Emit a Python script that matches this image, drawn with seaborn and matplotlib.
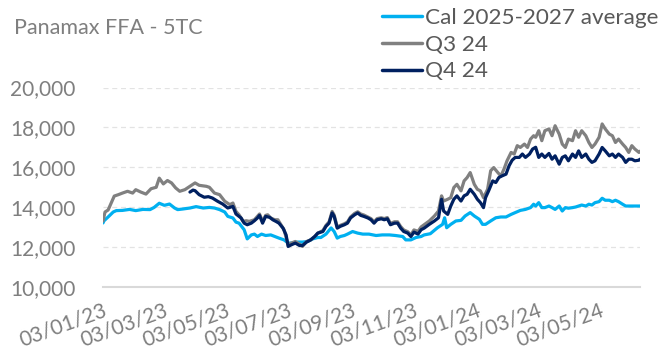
import matplotlib
matplotlib.use("Agg")
import matplotlib.pyplot as plt
from matplotlib.lines import Line2D
from matplotlib.ticker import FuncFormatter
import seaborn as sns
import pandas as pd

title = "Panamax FFA - 5TC"
series_names = ["Cal 2025-2027 average", "Q3 24", "Q4 24"]
series_colors = ["#00B0F0", "#808080", "#002060"]
start_date = "2023-01-03"
end_day = 525
tick_dates = ["2023-01-03", "2023-03-03", "2023-05-03", "2023-07-03", "2023-09-03",
              "2023-11-03", "2024-01-03", "2024-03-03", "2024-05-03"]
y_ticks = [10000, 12000, 14000, 16000, 18000, 20000]

# days since 2023-01-03
cal_days = [0, 1, 5, 10, 13, 19, 26, 32, 39, 46,
            50, 55, 60, 65, 70, 73, 78, 85, 91, 98,
            104, 109, 114, 119, 122, 127, 130, 133, 138, 141,
            145, 148, 151, 155, 159, 164, 168, 172, 177, 181,
            185, 190, 195, 200, 205, 210, 213, 218, 223, 226,
            229, 232, 236, 239, 244, 249, 254, 260, 267, 273,
            280, 286, 293, 296, 301, 306, 311, 314, 320, 327,
            332, 334, 336, 340, 345, 350, 354, 359, 363, 368,
            371, 374, 379, 384, 389, 394, 399, 403, 408, 413,
            418, 421, 423, 426, 429, 432, 436, 439, 442, 446,
            449, 452, 455, 459, 462, 465, 468, 472, 475, 478,
            481, 485, 488, 491, 495, 498, 501, 504, 508, 511,
            514, 517, 524, 525]
cal_values = [13200, 13310, 13500, 13750, 13820, 13830, 13880, 13820, 13880, 13870,
              13980, 14190, 14085, 14150, 13950, 13870, 13900, 13950, 14020, 13950,
              13980, 13950, 13870, 13750, 13530, 13450, 13240, 13190, 12860, 12400,
              12600, 12640, 12520, 12640, 12570, 12600, 12520, 12440, 12350, 12190,
              12190, 12240, 12240, 12270, 12400, 12470, 12470, 12640, 12950, 12770,
              12440, 12520, 12570, 12640, 12770, 12690, 12640, 12640, 12570, 12600,
              12600, 12570, 12520, 12350, 12350, 12470, 12520, 12600, 12660, 12960,
              13130, 13460, 12960, 13130, 13300, 13330, 13550, 13720, 13550, 13380,
              13130, 13130, 13300, 13460, 13500, 13500, 13630, 13720, 13830, 13880,
              13970, 14140, 14050, 14220, 13970, 13970, 14050, 13970, 13880, 14050,
              13800, 13970, 13940, 13970, 14000, 14050, 14100, 14050, 14140, 14100,
              14220, 14270, 14440, 14340, 14340, 14270, 14340, 14270, 14140, 14050,
              14050, 14050, 14050, 14050]

q3_days = [0, 2, 5, 8, 11, 15, 19, 24, 29, 32,
           37, 42, 47, 52, 55, 59, 63, 67, 71, 75,
           80, 85, 90, 94, 101, 104, 109, 114, 119, 124,
           127, 130, 133, 137, 140, 143, 148, 151, 153, 156,
           159, 161, 164, 168, 171, 174, 177, 181, 184, 188,
           192, 195, 199, 203, 207, 210, 215, 218, 221, 224,
           226, 229, 232, 236, 239, 242, 246, 249, 252, 255,
           259, 262, 265, 268, 272, 275, 278, 281, 285, 288,
           291, 294, 298, 301, 304, 308, 311, 314, 319, 324,
           328, 331, 333, 337, 340, 343, 346, 350, 353, 356,
           359, 363, 366, 369, 372, 376, 379, 382, 386, 389,
           392, 395, 399, 402, 405, 408, 412, 415, 418, 421,
           423, 426, 429, 432, 436, 439, 442, 446, 449, 452,
           455, 459, 462, 465, 468, 472, 475, 478, 481, 485,
           488, 491, 495, 498, 501, 504, 508, 511, 514, 517,
           520, 524, 525]
q3_values = [13300, 13750, 13850, 14200, 14550, 14620, 14700, 14790, 14700, 14870,
             14750, 14650, 14920, 14990, 15450, 15160, 15330, 15210, 14960, 14790,
             14870, 15040, 15210, 15090, 15040, 14990, 14700, 14620, 14290, 14120,
             14200, 13780, 13610, 13280, 13310, 13280, 13360, 13530, 13650, 13280,
             13580, 13610, 13450, 13360, 13360, 13110, 12860, 12100, 12190, 12270,
             12140, 12020, 12270, 12350, 12520, 12690, 12820, 13080, 13250, 13780,
             13600, 13000, 13080, 13160, 13250, 13500, 13680, 13760, 13650, 13600,
             13500, 13420, 13260, 13420, 13460, 13420, 13470, 13180, 13260, 13260,
             13020, 12850, 12760, 12600, 12850, 12780, 13000, 13110, 13300, 13550,
             13800, 14560, 14300, 14390, 14470, 14980, 15140, 14810, 15310, 15480,
             15730, 15140, 14890, 14810, 14470, 14890, 15820, 15980, 15730, 15560,
             15900, 16320, 16740, 16660, 17080, 16990, 17160, 16990, 17410, 17580,
             17500, 17830, 17330, 17830, 17920, 17580, 18080, 17660, 17160, 16990,
             17410, 17330, 17830, 17500, 17830, 17580, 17240, 16990, 17160, 17500,
             18170, 17920, 17660, 17580, 17240, 17410, 17160, 16990, 16740, 17080,
             16910, 16740, 16800]

q4_days = [85, 88, 90, 94, 99, 103, 107, 112, 117, 122,
           127, 130, 135, 138, 141, 145, 148, 151, 153, 156,
           159, 163, 166, 169, 172, 176, 179, 181, 184, 188,
           192, 195, 199, 203, 207, 210, 215, 218, 221, 224,
           226, 229, 232, 236, 239, 242, 246, 249, 252, 255,
           259, 262, 265, 268, 272, 275, 278, 281, 285, 288,
           291, 294, 298, 301, 304, 308, 311, 314, 319, 324,
           328, 331, 333, 337, 340, 343, 346, 350, 353, 356,
           359, 363, 366, 369, 372, 374, 377, 381, 384, 387,
           390, 394, 397, 400, 403, 407, 410, 413, 417, 420,
           423, 426, 429, 432, 436, 439, 442, 446, 449, 452,
           455, 459, 462, 465, 468, 472, 475, 478, 481, 485,
           488, 491, 495, 498, 501, 504, 508, 511, 514, 517,
           520, 524, 525]
q4_values = [14750, 14850, 14820, 14620, 14490, 14520, 14450, 14290, 14150, 13950,
             14030, 13650, 13450, 13190, 13110, 13190, 13310, 13450, 13580, 13190,
             13530, 13480, 13360, 13280, 13190, 12940, 12600, 12020, 12100, 12190,
             12070, 12070, 12240, 12350, 12520, 12690, 12770, 13030, 13190, 13700,
             13530, 12940, 13030, 13110, 13190, 13450, 13610, 13700, 13580, 13530,
             13450, 13360, 13190, 13360, 13410, 13360, 13410, 13110, 13190, 13190,
             12940, 12770, 12690, 12520, 12740, 12640, 12860, 12940, 13130, 13300,
             13460, 14390, 13800, 13630, 14050, 14390, 14560, 14300, 14560, 14640,
             14890, 14640, 14390, 14220, 13970, 14470, 14810, 15310, 15230, 15480,
             15560, 15650, 16070, 16350, 16490, 16490, 16660, 16490, 16660, 16910,
             17000, 16490, 16660, 16490, 16690, 16400, 16570, 16150, 16490, 16570,
             16320, 16660, 16490, 16820, 16490, 16660, 16400, 16240, 16320, 16660,
             16990, 16820, 16570, 16660, 16490, 16660, 16490, 16240, 16400, 16400,
             16320, 16350, 16400]

sns.set_theme(style="white")
plt.rcParams["font.family"] = ["Lato", "DejaVu Sans"]

base = pd.Timestamp(start_date)
frames = []
for name, d, v in zip(series_names, [cal_days, q3_days, q4_days],
                      [cal_values, q3_values, q4_values]):
    assert len(d) == len(v), (name, len(d), len(v))
    frames.append(pd.DataFrame({"date": base + pd.to_timedelta(d, unit="D"),
                                "value": v, "series": name}))
df = pd.concat(frames, ignore_index=True)

W, H = 666, 351
fig = plt.figure(figsize=(W / 100, H / 100), dpi=100)
ax = fig.add_axes([103 / W, 1 - 286.7 / H, (640 - 103) / W, (286.7 - 87.5) / H])

sns.lineplot(data=df, x="date", y="value", hue="series", hue_order=series_names,
             palette=series_colors, linewidth=2.3, ax=ax, legend=False,
             estimator=None, sort=False)

ax.set_xlim(base, base + pd.Timedelta(days=end_day))
ax.set_ylim(y_ticks[0], y_ticks[-1])
ax.set_xlabel("")
ax.set_ylabel("")

ax.set_yticks(y_ticks)
ax.yaxis.set_major_formatter(FuncFormatter(lambda v, p: f"{v:,.0f}"))
ax.tick_params(axis="y", length=0, pad=20, labelsize=15, labelcolor="#7f7f7f")

tdates = pd.to_datetime(tick_dates)
ax.set_xticks(tdates)
ax.set_xticklabels([t.strftime("%d/%m/%y") for t in tdates], rotation=20,
                   ha="right", va="top", rotation_mode="anchor")
ax.tick_params(axis="x", length=6, width=1.2, color="#d9d9d9", direction="out",
               labelsize=15, labelcolor="#7f7f7f", pad=4)

for s in ["left", "top", "right"]:
    ax.spines[s].set_visible(False)
ax.spines["bottom"].set_color("#d9d9d9")
ax.spines["bottom"].set_linewidth(1.5)

ax.yaxis.grid(True, color="#e3e3e3", linewidth=0.9, linestyle=(0, (4, 3)))
ax.xaxis.grid(False)
ax.set_axisbelow(True)

fig.text(14 / W, 1 - 28 / H, title, fontsize=15.5, color="#7f7f7f", va="center", ha="left")

handles = [Line2D([0], [0], color=c, linewidth=2.5) for c in series_colors]
fig.legend(handles, series_names, loc="upper left", bbox_to_anchor=(382 / W, 1 - 8 / H),
           frameon=False, fontsize=16.2, labelcolor="#595959", handlelength=1.8,
           handletextpad=0.12, labelspacing=0.3, borderpad=0, borderaxespad=0)

fig.savefig("out.png", dpi=100, facecolor="white")
